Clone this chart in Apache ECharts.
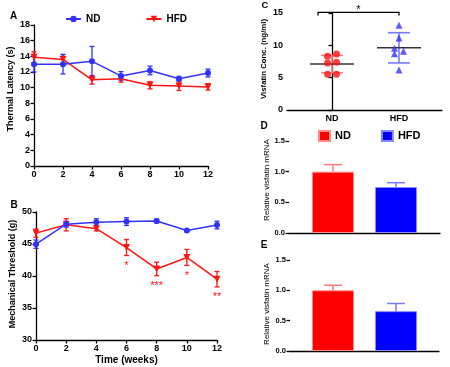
<!DOCTYPE html>
<html><head><meta charset="utf-8">
<script src="https://cdn.jsdelivr.net/npm/echarts@6/dist/echarts.min.js"></script>
<style>html,body{margin:0;padding:0;background:#fff}#c{width:450px;height:367px}</style>
</head><body><div id="c"></div>
<script>
// ---------- data ----------
const weeks = [0, 2, 4, 6, 8, 10, 12];
const seriesNames = ['ND', 'HFD'];
// Panel A: thermal latency (s), mean and SEM
const thermND     = [13.0, 13.0, 13.36, 11.5, 12.2, 11.15, 11.87];
const thermNDErr  = [1.0, 1.25, 1.9, 0.55, 0.55, 0.28, 0.5];
const thermHFD    = [13.87, 13.6, 11.0, 11.15, 10.3, 10.2, 10.1];
const thermHFDErr = [0.7, 0.6, 0.55, 0.45, 0.45, 0.55, 0.4];
// Panel B: mechanical threshold (g)
const mechND      = [44.97, 48.1, 48.4, 48.5, 48.6, 47.1, 47.96];
const mechNDErr   = [0.65, 0.45, 0.55, 0.6, 0.3, 0.15, 0.6];
const mechHFD     = [46.7, 48.0, 47.4, 44.45, 41.1, 42.9, 39.5];
const mechHFDErr  = [0.65, 0.95, 0.35, 1.25, 1.05, 1.25, 1.2];
const mechSig     = ['', '', '', '*', '***', '*', '**'];
// Panel C: visfatin concentration (ng/ml), individual animals
const groups = ['ND', 'HFD'];
const visND  = [8.30, 8.66, 7.27, 7.37, 5.52, 5.52];
const visHFD = [13.09, 11.13, 9.53, 9.07, 8.71, 6.18];
const visSig = '*';
// Panels D & E: relative visfatin mRNA (mean, error)
const mrnaD    = [1.0, 0.75];
const mrnaDErr = [0.115, 0.07];
const mrnaE    = [1.0, 0.657];
const mrnaEErr = [0.084, 0.126];

// ---------- styles ----------
const FONT = '"Liberation Sans", Arial, sans-serif';
const BLUE = '#3232ff', RED = '#ff1414';
const LRED = '#ff7a7a', LBLUE = '#7a7aff';
const AX = {lineStyle: {color: '#000', width: 1.3}};
const TICK = {show: true, inside: false, length: 3.5, lineStyle: {color: '#000', width: 1.3}};

function lbl(size, extra) {
  return Object.assign({color: '#000', fontFamily: FONT, fontWeight: 'bold', fontSize: size, margin: 4}, extra || {});
}
function valueAxis(gi, min, max, interval, size, extra) {
  return Object.assign({type: 'value', gridIndex: gi, min, max, interval,
    axisLine: AX, axisTick: TICK, splitLine: {show: false}, axisLabel: lbl(size)}, extra || {});
}
function errSeries(xi, data, color, cap) {
  return {type: 'custom', xAxisIndex: xi, yAxisIndex: xi, data, silent: true, z: 3,
    renderItem(params, api) {
      const x = api.value(0), m = api.value(1), e = api.value(2);
      const t = api.coord([x, m + e]), b = api.coord([x, m - e]);
      const cx = t[0], st = {stroke: color, lineWidth: 1.3};
      return {type: 'group', children: [
        {type: 'line', shape: {x1: cx, y1: t[1], x2: cx, y2: b[1]}, style: st},
        {type: 'line', shape: {x1: cx - cap, y1: t[1], x2: cx + cap, y2: t[1]}, style: st},
        {type: 'line', shape: {x1: cx - cap, y1: b[1], x2: cx + cap, y2: b[1]}, style: st}
      ]};
    }};
}
function lineSeries(xi, name, vals, color, isHFD) {
  return {type: 'line', name, xAxisIndex: xi, yAxisIndex: xi,
    data: weeks.map((w, i) => [w, vals[i]]),
    symbol: isHFD ? 'triangle' : 'circle', symbolRotate: isHFD ? 180 : 0,
    symbolSize: isHFD ? 7 : 6, lineStyle: {color, width: 1.5}, itemStyle: {color},
    z: isHFD ? 4 : 5, animation: false};
}
function jitterDirs(vals) {
  const dirs = vals.map(() => 0);
  let i = 0;
  while (i < vals.length) {
    let j = i;
    while (j + 1 < vals.length && Math.abs(vals[j + 1] - vals[j]) < 0.8) j++;
    if (j > i) for (let k = i; k <= j; k++) dirs[k] = ((k - i) % 2 === 0) ? -1 : 1;
    i = j + 1;
  }
  return dirs;
}
function meanSd(v) {
  const m = v.reduce((a, b) => a + b, 0) / v.length;
  const sd = Math.sqrt(v.reduce((a, b) => a + (b - m) * (b - m), 0) / (v.length - 1));
  return [m, sd];
}
function barErr(xi, means, errs) {
  const cols = [LRED, LBLUE];
  return {type: 'custom', xAxisIndex: xi, yAxisIndex: xi, silent: true, z: 3,
    data: means.map((m, i) => [0, m, errs[i], i]),
    renderItem(params, api) {
      const m = api.value(1), e = api.value(2), gi = api.value(3);
      const off = (gi === 0 ? -1 : 1) * 31.5;
      const b = api.coord([0, m]), t = api.coord([0, m + e]);
      const cx = b[0] + off, st = {stroke: cols[gi], lineWidth: 1.5};
      return {type: 'group', children: [
        {type: 'line', shape: {x1: cx, y1: b[1], x2: cx, y2: t[1]}, style: st},
        {type: 'line', shape: {x1: cx - 9, y1: t[1], x2: cx + 9, y2: t[1]}, style: st}
      ]};
    }};
}
function barSeries(xi, name, val, color, border) {
  return {type: 'bar', name, xAxisIndex: xi, yAxisIndex: xi, data: [val], barWidth: 42, barGap: '50%',
    itemStyle: {color, borderColor: border, borderWidth: 1}, animation: false};
}
function gtext(x, y, text, size, bold, rot) {
  return {type: 'text', x, y, rotation: rot ? Math.PI / 2 : 0, silent: true,
    style: {text, fontFamily: FONT, fontSize: size, fontWeight: bold ? 'bold' : 'normal',
      fill: '#000', align: 'center', verticalAlign: 'middle'}};
}

const dirsND = jitterDirs(visND), dirsHFD = jitterDirs(visHFD);
const statND = meanSd(visND), statHFD = meanSd(visHFD);

const option = {
  animation: false,
  textStyle: {fontFamily: FONT},
  grid: [
    {left: 34, top: 25, width: 174, height: 141},
    {left: 36, top: 212, width: 181, height: 128},
    {left: 287, top: 13, width: 155, height: 97},
    {left: 289, top: 141, width: 151, height: 92},
    {left: 290, top: 260, width: 149, height: 91}
  ],
  xAxis: [
    valueAxis(0, 0, 12, 2, 9),
    valueAxis(1, 0, 12, 2, 9, {name: 'Time (weeks)', nameLocation: 'middle', nameGap: 15,
      nameTextStyle: {fontFamily: FONT, fontWeight: 'bold', fontSize: 10, color: '#000'}}),
    {type: 'value', gridIndex: 2, min: -0.672, max: 1.642, axisLine: AX, axisTick: {show: false},
      splitLine: {show: false},
      axisLabel: lbl(9, {customValues: [0, 1], formatter: v => groups[Math.round(v)]})},
    {type: 'category', gridIndex: 3, data: [''], axisLine: AX, axisTick: {show: false}, axisLabel: {show: false}},
    {type: 'category', gridIndex: 4, data: [''], axisLine: AX, axisTick: {show: false}, axisLabel: {show: false}}
  ],
  yAxis: [
    valueAxis(0, 0, 18, 2, 9),
    valueAxis(1, 30, 50, 5, 9),
    valueAxis(2, 0, 15, 5, 9),
    valueAxis(3, 0, 1.5, 0.5, 7.5, {axisLabel: lbl(7.5, {formatter: v => v.toFixed(1)})}),
    valueAxis(4, 0, 1.5, 0.5, 7.5, {axisLabel: lbl(7.5, {formatter: v => v.toFixed(1)})})
  ],
  legend: [
    {left: 65, top: 14, padding: 0, data: seriesNames, itemWidth: 15, itemHeight: 8, itemGap: 45, selectedMode: false,
      textStyle: {fontFamily: FONT, fontWeight: 'bold', fontSize: 10, color: '#000'}},
    {left: 318, top: 130, padding: 0, data: seriesNames.map(n => n + ' bar'), formatter: n => n.replace(' bar', ''),
      icon: 'rect', itemWidth: 11, itemHeight: 10, itemGap: 30, selectedMode: false,
      textStyle: {fontFamily: FONT, fontWeight: 'bold', fontSize: 11, color: '#000'}}
  ],
  series: [
    // Panel A
    errSeries(0, weeks.map((w, i) => [w, thermHFD[i], thermHFDErr[i]]), RED, 2.5),
    errSeries(0, weeks.map((w, i) => [w, thermND[i], thermNDErr[i]]), BLUE, 2.5),
    lineSeries(0, 'HFD', thermHFD, RED, true),
    lineSeries(0, 'ND', thermND, BLUE, false),
    // Panel B
    errSeries(1, weeks.map((w, i) => [w, mechHFD[i], mechHFDErr[i]]), RED, 2.5),
    errSeries(1, weeks.map((w, i) => [w, mechND[i], mechNDErr[i]]), BLUE, 2.5),
    lineSeries(1, 'HFD', mechHFD, RED, true),
    lineSeries(1, 'ND', mechND, BLUE, false),
    {type: 'custom', xAxisIndex: 1, yAxisIndex: 1, silent: true, z: 6,
      data: weeks.map((w, i) => [w, mechHFD[i] - mechHFDErr[i], i]).filter(d => mechSig[d[2]]),
      renderItem(params, api) {
        const p = api.coord([api.value(0), api.value(1)]);
        return {type: 'text', x: p[0], y: p[1] + 10.5,
          style: {text: mechSig[api.value(2)], fill: RED, fontFamily: FONT, fontSize: 11,
            align: 'center', verticalAlign: 'middle'}};
      }},
    // Panel C
    {type: 'custom', xAxisIndex: 2, yAxisIndex: 2, silent: true, z: 2,
      data: [[0, statND[0], statND[1]], [1, statHFD[0], statHFD[1]]],
      renderItem(params, api) {
        const g = api.value(0), m = api.value(1), s = api.value(2);
        const c = api.coord([g, m]), t = api.coord([g, m + s]), b = api.coord([g, m - s]);
        const col = g === 0 ? LRED : LBLUE, st = {stroke: col, lineWidth: 1.6};
        return {type: 'group', children: [
          {type: 'line', shape: {x1: c[0], y1: t[1], x2: c[0], y2: b[1]}, style: st},
          {type: 'line', shape: {x1: c[0] - 11, y1: t[1], x2: c[0] + 11, y2: t[1]}, style: st},
          {type: 'line', shape: {x1: c[0] - 11, y1: b[1], x2: c[0] + 11, y2: b[1]}, style: st},
          {type: 'line', shape: {x1: c[0] - 22, y1: c[1], x2: c[0] + 22, y2: c[1]}, style: {stroke: '#333', lineWidth: 1.6}}
        ]};
      }},
    {type: 'scatter', name: 'ND pts', xAxisIndex: 2, yAxisIndex: 2, symbol: 'circle', symbolSize: 7, z: 4,
      itemStyle: {color: RED}, data: visND.map((v, i) => ({value: [0, v], symbolOffset: [dirsND[i] * 4.5, 0]}))},
    {type: 'scatter', name: 'HFD pts', xAxisIndex: 2, yAxisIndex: 2, symbol: 'triangle', symbolSize: 7, z: 4,
      itemStyle: {color: BLUE}, data: visHFD.map((v, i) => ({value: [1, v], symbolOffset: [dirsHFD[i] * 4.5, 0]}))},
    {type: 'custom', xAxisIndex: 2, yAxisIndex: 2, silent: true, z: 5, data: [[0, 15]],
      renderItem(params, api) {
        const l = api.coord([0, 15]), r = api.coord([1, 15]);
        const y = l[1] - 0.6, x0 = l[0] - 14;
        return {type: 'group', children: [
          {type: 'polyline', shape: {points: [[x0, y + 3], [x0, y], [r[0], y], [r[0], y + 3]]},
            style: {stroke: '#000', lineWidth: 1.3, fill: null}},
          {type: 'text', x: (x0 + r[0]) / 2, y: y - 2.2,
            style: {text: visSig, fill: '#000', fontFamily: FONT, fontSize: 11, align: 'center', verticalAlign: 'middle'}}
        ]};
      }},
    // Panel D
    barSeries(3, 'ND bar', mrnaD[0], '#ff0000', '#ff8a8a'),
    barSeries(3, 'HFD bar', mrnaD[1], '#0000ff', '#8a8aff'),
    barErr(3, mrnaD, mrnaDErr),
    // Panel E
    barSeries(4, 'ND bar', mrnaE[0], '#ff0000', '#ff8a8a'),
    barSeries(4, 'HFD bar', mrnaE[1], '#0000ff', '#8a8aff'),
    barErr(4, mrnaE, mrnaEErr)
  ],
  graphic: [
    gtext(13.5, 16, 'A', 10, true),
    gtext(14, 205, 'B', 10, true),
    gtext(265, 5.5, 'C', 9.5, true),
    gtext(264, 126, 'D', 10, true),
    gtext(264, 245, 'E', 10, true),
    gtext(10.5, 89, 'Thermal Latency (s)', 9, true, true),
    gtext(13, 274, 'Mechanical Threshold (g)', 9, true, true),
    gtext(264, 59, 'Visfatin Conc. (ng/ml)', 7.8, true, true),
    gtext(267, 180, 'Relative visfatin mRNA', 8, false, true),
    gtext(267, 304, 'Relative visfatin mRNA', 8, false, true)
  ]
};
echarts.init(document.getElementById('c'), null, {renderer: 'canvas'}).setOption(option);
</script></body></html>
